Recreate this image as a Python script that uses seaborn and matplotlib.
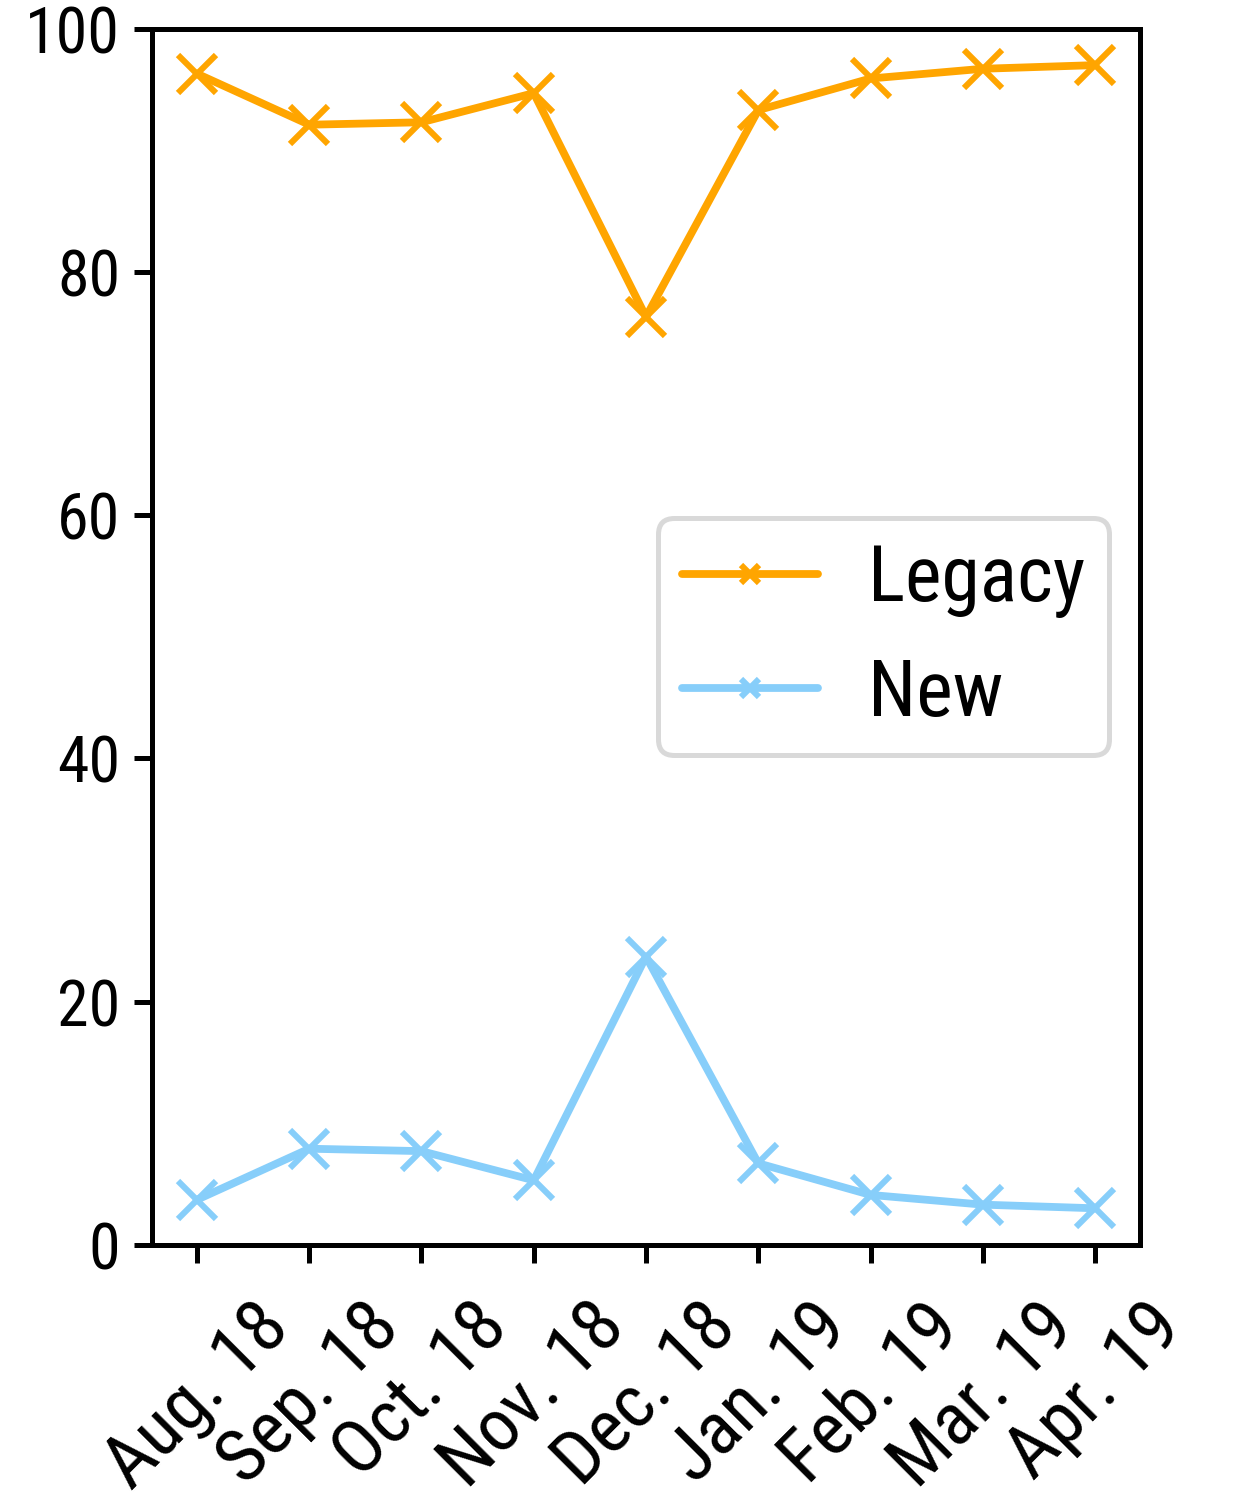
import matplotlib
matplotlib.use("Agg")
import matplotlib.pyplot as plt
from matplotlib import font_manager
import seaborn as sns
import pandas as pd

months = ["Aug. 18", "Sep. 18", "Oct. 18", "Nov. 18", "Dec. 18",
          "Jan. 19", "Feb. 19", "Mar. 19", "Apr. 19"]
legacy = [96.3, 92.1, 92.3, 94.7, 76.3, 93.3, 95.9, 96.7, 97.0]
new = [3.7, 7.9, 7.7, 5.3, 23.7, 6.7, 4.1, 3.3, 3.0]
series_names = ["Legacy", "New"]
colors = {"Legacy": "#FFA500", "New": "#87CEFA"}

sns.set_style("ticks")
avail = {f.name for f in font_manager.fontManager.ttflist}
fam = [f for f in ["Liberation Sans Narrow", "Arial Narrow", "Nimbus Sans Narrow",
                   "Roboto Condensed", "Liberation Sans", "DejaVu Sans"] if f in avail]
plt.rcParams["font.family"] = fam
for k in ["text.color", "axes.labelcolor", "xtick.color", "ytick.color", "axes.edgecolor"]:
    plt.rcParams[k] = "black"

df = pd.DataFrame({
    "month": months * 2,
    "pos": list(range(len(months))) * 2,
    "value": legacy + new,
    "series": [series_names[0]] * len(months) + [series_names[1]] * len(months),
})

fig = plt.figure(figsize=(6.205, 7.535), dpi=200)
ax = fig.add_axes([0.1225, 0.174, 0.7961, 0.807])

for name in series_names:
    sub = df[df["series"] == name]
    sns.lineplot(data=sub, x="pos", y="value", ax=ax, color=colors[name],
                 marker="x", markersize=13.5, markeredgewidth=2.2,
                 linewidth=2.8, label=name, markeredgecolor=colors[name])

ax.set_ylim(0, 100)
ax.set_yticks([0, 20, 40, 60, 80, 100])
ax.set_xticks(range(len(months)))
ax.set_xticklabels(months, rotation=45, ha="center")
ax.set_xlabel("")
ax.set_ylabel("")
ax.tick_params(axis="both", length=6.5, width=1.8, direction="out",
               colors="black", pad=5)
ax.tick_params(axis="y", labelsize=23)
ax.tick_params(axis="x", labelsize=27, pad=10)
for s in ax.spines.values():
    s.set_linewidth(1.8)
    s.set_color("black")
    s.set_visible(True)

leg = ax.legend(loc="center right", fontsize=28, markerscale=0.5,
                frameon=True, fancybox=True, framealpha=1,
                handlelength=1.75, handletextpad=0.65, borderpad=0.3,
                borderaxespad=0.4)
leg.get_frame().set_edgecolor("#d9d9d9")
leg.get_frame().set_linewidth(1.8)

fig.savefig("out.png", dpi=200)
